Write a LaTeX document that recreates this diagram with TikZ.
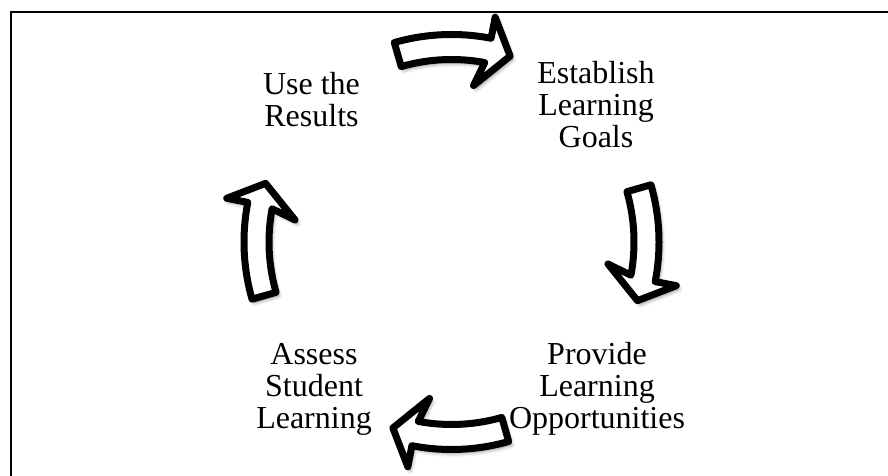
\documentclass[tikz,border=0pt]{standalone}
\usepackage{fontspec}
\setmainfont{Liberation Serif}
\usetikzlibrary{shadows.blur}

\begin{document}
\begin{tikzpicture}[x=1pt, y=1pt,
  stagetext/.style={align=center, font=\fontsize{32}{32}\selectfont},
  cyclearrow/.style={draw=black, fill=white, line width=7pt, line join=round,
    blur shadow={shadow xshift=2.5pt, shadow yshift=-3.5pt,
      shadow blur radius=4pt, shadow opacity=50}}]
  \useasboundingbox (0,0) rectangle (888,476);
  \clip (0,0) rectangle (888,476);
  % frame (only the top and left edges fall on the page)
  \draw[line width=2pt] (10.5,-20) rectangle (900,464);

  % the four stages
  \node[stagetext] (goals)   at (596,371) {Establish\\Learning\\Goals};
  \node[stagetext] (provide) at (597,87)  {Provide\\Learning\\Opportunities};
  \node[stagetext] (assess)  at (314,87)  {Assess\\Student\\Learning};
  \node[stagetext] (results) at (311.5,376.5) {Use the\\Results};

  % curved block arrows, clockwise round the hub
  \coordinate (hub) at (451.5,234);
  \foreach \t in {90,0,-90,180} {
    \draw[cyclearrow, shift={(hub)}]
      (\t+16:207.5) arc[start angle=\t+16, end angle=\t-11, radius=207.5]
      -- (\t-11:229) -- (\t-17.5:195) -- (\t-8:158) -- (\t-10.5:182.5)
      arc[start angle=\t-10.5, end angle=\t+16, radius=182.5] -- cycle;
  }
\end{tikzpicture}
\end{document}
